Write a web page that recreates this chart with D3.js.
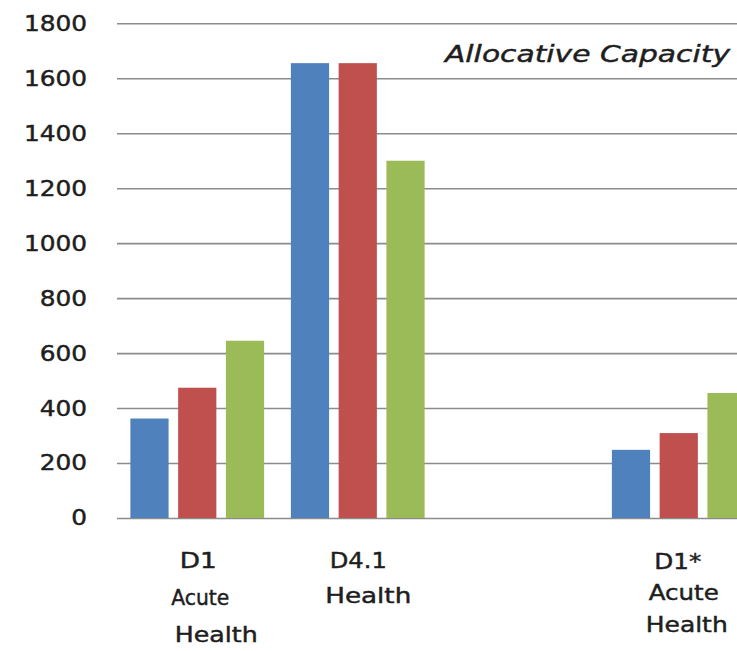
<!DOCTYPE html>
<html>
<head>
<meta charset="utf-8">
<script src="https://cdn.jsdelivr.net/npm/d3@7"></script>
<style>
  html, body { margin: 0; padding: 0; background: #fff; }
  svg { display: block; }
  text { font-family: "DejaVu Sans", Verdana, sans-serif; fill: #1e1e1e; stroke: #1e1e1e; stroke-width: 0.45px; }
</style>
</head>
<body>
<svg id="chart" width="737" height="651"></svg>
<script>
// ---------- data ----------
const categories = ["D1 Acute Health", "D4.1 Health", "", "D1* Acute Health"];
const categoryLines = [["D1", "Acute", "Health"], ["D4.1", "Health"], [], ["D1*", "Acute", "Health"]];
const seriesNames = ["Series 1", "Series 2", "Series 3"];
const seriesA = [362, 1655, null, 248];
const seriesB = [474, 1655, null, 309];
const seriesC = [645, 1300, null, 455];
const yTicks = [0, 200, 400, 600, 800, 1000, 1200, 1400, 1600, 1800];
const chartTitle = "Allocative Capacity";

// ---------- layout ----------
const colors = ["#4F81BD", "#C0504D", "#9BBB59"];
const plot = { left: 117, top: 23.3, bottom: 518, step: 160.5 };
// per-line label placement (dx from band centre, baseline y, rendered width)
const labelLayout = [
  [{dx: 1, y: 568, w: 37}, {dx: 3, y: 605, w: 58}, {dx: 19, y: 642, w: 83}],
  [{dx: 0.5, y: 568, w: 57}, {dx: 10.5, y: 603, w: 86}],
  [],
  [{dx: -1, y: 569, w: 47}, {dx: 5, y: 600, w: 70}, {dx: 8, y: 632, w: 82}]
];

const svg = d3.select("#chart");
const seriesData = [seriesA, seriesB, seriesC];

const x0 = d3.scaleBand()
  .domain(categories.map((c, i) => i))
  .range([plot.left, plot.left + plot.step * categories.length])
  .paddingInner(0).paddingOuter(0);

const x1 = d3.scaleBand()
  .domain(seriesNames)
  .range([0, x0.bandwidth()])
  .paddingInner(0.2).paddingOuter(0.28);

const y = d3.scaleLinear().domain([0, 1800]).range([plot.bottom, plot.top]);

// gridlines + tick labels
const yAxis = d3.axisLeft(y)
  .tickValues(yTicks)
  .tickSize(-(737 - plot.left + 40))
  .tickPadding(30)
  .tickFormat(d3.format("d"));

const gAxis = svg.append("g")
  .attr("transform", `translate(${plot.left},0)`)
  .call(yAxis);
gAxis.select(".domain").remove();
gAxis.selectAll(".tick line").attr("stroke", "#8c8c8c").attr("stroke-width", 1.6);
gAxis.selectAll(".tick text")
  .attr("font-size", 21)
  .attr("fill", "#1e1e1e")
  .attr("dy", "0.33em")
  .each(function() {
    const w = this.getComputedTextLength();
    d3.select(this).attr("textLength", w * 1.18).attr("lengthAdjust", "spacingAndGlyphs");
  });

// bars
const groups = svg.append("g").selectAll("g")
  .data(categories.map((c, i) => i))
  .join("g")
  .attr("transform", i => `translate(${x0(i)},0)`);

groups.selectAll("rect")
  .data(i => seriesNames.map((s, k) => ({ s, k, v: seriesData[k][i] })).filter(d => d.v != null))
  .join("rect")
  .attr("x", d => x1(d.s))
  .attr("width", x1.bandwidth())
  .attr("y", d => y(d.v))
  .attr("height", d => y(0) - y(d.v))
  .attr("fill", d => colors[d.k]);

// category labels
categories.forEach((c, i) => {
  const cx = x0(i) + x0.bandwidth() / 2;
  categoryLines[i].forEach((line, j) => {
    const L = labelLayout[i][j];
    svg.append("text")
      .attr("x", cx + L.dx)
      .attr("y", L.y)
      .attr("text-anchor", "middle")
      .attr("font-size", 21)
      .attr("textLength", L.w)
      .attr("lengthAdjust", "spacingAndGlyphs")
      .text(line);
  });
});

// title
svg.append("text")
  .attr("x", 730)
  .attr("y", 62)
  .attr("text-anchor", "end")
  .attr("font-size", 23.5)
  .attr("font-style", "italic")
  .attr("textLength", 285)
  .attr("lengthAdjust", "spacingAndGlyphs")
  .text(chartTitle);
</script>
</body>
</html>
